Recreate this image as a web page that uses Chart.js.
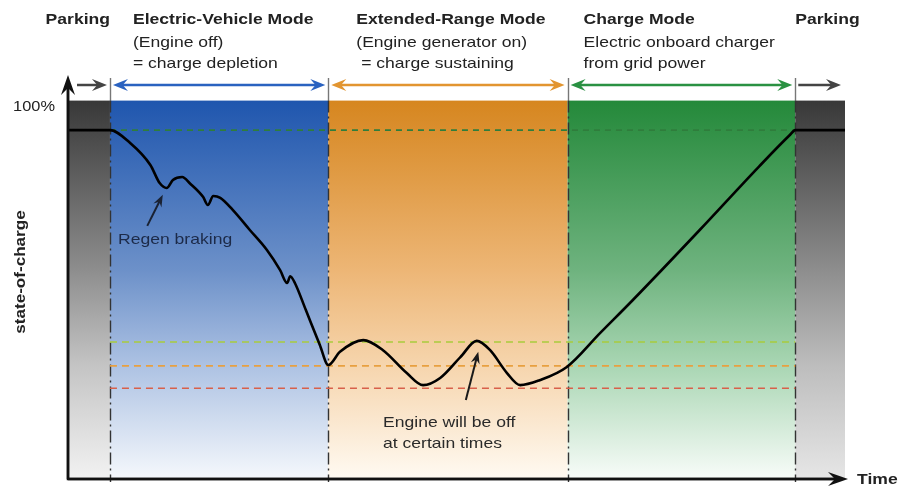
<!DOCTYPE html>
<html lang="en">
<head>
  <meta charset="UTF-8">
  <title>Range-extender EV state-of-charge</title>
  <script src="https://cdn.jsdelivr.net/npm/chart.js"></script>
  <style>
    body { margin: 0; background: #fff; }
    #wrap { width: 899px; height: 489px; }
  </style>
</head>
<body>
  <div id="wrap"><canvas id="socChart" width="899" height="489"></canvas></div>

  <script>
    // operating phases along the time axis (0..100)
    const phaseNames = ['Parking', 'Electric-Vehicle Mode', 'Extended-Range Mode', 'Charge Mode', 'Parking'];
    const phaseStart = [0, 5.4, 33.5, 64.3, 93.6];
    const phaseEnd = [5.4, 33.5, 64.3, 93.6, 100];
    const phaseNotes = [
      [],
      ['(Engine off)', '= charge depletion'],
      ['(Engine generator on)', ' = charge sustaining'],
      ['Electric onboard charger', 'from grid power'],
      []
    ];

    // state-of-charge curve (% of band height)
    const socTime = [0, 5.4, 8.0, 10.6, 11.8, 12.7, 13.5, 14.7, 15.7, 17.4, 18.0, 18.7, 19.6, 21.2, 23.4, 25.6,
      27.3, 28.2, 28.6, 29.2, 30.6, 32.4, 33.5, 35.0, 38.0, 40.5, 43.6, 45.7, 47.9, 50.5, 52.6, 54.3, 56.5,
      58.2, 60.7, 64.2, 68.5, 72.7, 81.3, 88.9, 92.9, 93.6, 100];
    const socValue = [92.2, 92.2, 88.8, 83.0, 78.2, 76.9, 79.0, 79.8, 78.1, 74.5, 72.4, 74.8, 74.3, 71.1, 65.8, 60.5,
      55.2, 51.8, 53.6, 51.8, 44.7, 35.5, 30.1, 33.6, 36.7, 34.1, 28.0, 24.8, 26.7, 32.2, 36.5, 34.1, 28.0,
      24.8, 26.1, 29.6, 38.6, 47.3, 65.8, 82.5, 90.9, 92.2, 92.2];

    // dashed reference levels
    const levelValues = [92.2, 36.2, 29.9, 24.0];
    const levelColors = ['#2f7d3c', '#a9cc3c', '#e8a040', '#d8604a'];

    const bandStops = [
      ['#383838', '#8e8e8e', '#c4c4c4', '#f2f2f2'],
      ['#1f56ae', '#6d91c9', '#adc2e3', '#f5f8fc'],
      ['#d6861f', '#edb676', '#f6d5ad', '#fffaf2'],
      ['#24893a', '#6fb37f', '#a9d6b3', '#f8fcf9'],
      ['#383838', '#8e8e8e', '#bdbdbd', '#e6e6e6']
    ];
    const arrowColors = ['#444444', '#2a62c0', '#e29530', '#2a9142', '#444444'];

    const levelSets = levelValues.map((v, i) => ({
      data: [{ x: phaseStart[1], y: v }, { x: phaseEnd[3], y: v }],
      borderColor: levelColors[i],
      borderWidth: 1.6,
      borderDash: i === 0 ? [6, 5] : [7, 5],
      pointRadius: 0
    }));

    const FONT = '"Liberation Sans", Arial, sans-serif';
    const STRETCH = 1.17;

    function text(ctx, str, x, y, font, align) {
      ctx.save();
      ctx.translate(x, y);
      ctx.scale(STRETCH, 1);
      ctx.font = font;
      ctx.textAlign = align || 'left';
      ctx.textBaseline = 'middle';
      ctx.fillText(str, 0, 0);
      ctx.restore();
    }

    function arrow(ctx, x1, y1, x2, y2, color, both, len, wid, lw) {
      const a = Math.atan2(y2 - y1, x2 - x1);
      ctx.save();
      ctx.strokeStyle = color;
      ctx.fillStyle = color;
      ctx.lineWidth = lw || 2;
      ctx.beginPath();
      ctx.moveTo(x1 + (both ? Math.cos(a) * len * 0.6 : 0), y1 + (both ? Math.sin(a) * len * 0.6 : 0));
      ctx.lineTo(x2 - Math.cos(a) * len * 0.6, y2 - Math.sin(a) * len * 0.6);
      ctx.stroke();
      const head = (tx, ty, ang) => {
        ctx.beginPath();
        ctx.moveTo(tx, ty);
        ctx.lineTo(tx - Math.cos(ang) * len + Math.sin(ang) * wid / 2, ty - Math.sin(ang) * len - Math.cos(ang) * wid / 2);
        ctx.lineTo(tx - Math.cos(ang) * len * 0.65, ty - Math.sin(ang) * len * 0.65);
        ctx.lineTo(tx - Math.cos(ang) * len - Math.sin(ang) * wid / 2, ty - Math.sin(ang) * len + Math.cos(ang) * wid / 2);
        ctx.closePath();
        ctx.fill();
      };
      head(x2, y2, a);
      if (both) head(x1, y1, a + Math.PI);
      ctx.restore();
    }

    const diagram = {
      id: 'diagram',
      beforeDatasetsDraw(chart) {
        const { ctx, chartArea, scales: { x, y } } = chart;
        const top = y.getPixelForValue(100);
        const bottom = chartArea.bottom;
        ctx.save();
        phaseStart.forEach((s, i) => {
          const x0 = x.getPixelForValue(s), x1 = x.getPixelForValue(phaseEnd[i]);
          const g = ctx.createLinearGradient(0, top, 0, bottom);
          g.addColorStop(0, bandStops[i][0]);
          g.addColorStop(0.45, bandStops[i][1]);
          g.addColorStop(0.7, bandStops[i][2]);
          g.addColorStop(1, bandStops[i][3]);
          ctx.fillStyle = g;
          ctx.fillRect(x0, top, x1 - x0, bottom - top);
        });
        // phase boundaries
        ctx.lineWidth = 1.4;
        phaseStart.slice(1).forEach(s => {
          const px = Math.round(x.getPixelForValue(s)) + 0.5;
          ctx.setLineDash([]);
          ctx.strokeStyle = '#777';
          ctx.beginPath(); ctx.moveTo(px, chartArea.top + 2); ctx.lineTo(px, top); ctx.stroke();
          ctx.strokeStyle = '#333';
          ctx.setLineDash([12, 4, 2, 4]);
          ctx.beginPath(); ctx.moveTo(px, top); ctx.lineTo(px, bottom + 3); ctx.stroke();
        });
        ctx.restore();
      },
      afterDatasetsDraw(chart) {
        const { ctx, chartArea, scales: { x, y } } = chart;
        const L = chartArea.left, B = chartArea.bottom;
        ctx.save();
        // axes
        ctx.strokeStyle = '#111';
        ctx.lineWidth = 2.5;
        ctx.beginPath();
        ctx.moveTo(L, chartArea.top + 12); ctx.lineTo(L, B); ctx.lineTo(chartArea.right - 8, B);
        ctx.stroke();
        arrow(ctx, L, B, L, chartArea.top - 1, '#111', false, 20, 14, 2.5);
        arrow(ctx, L, B, chartArea.right + 3, B, '#111', false, 20, 14, 2.5);

        // phase arrows
        const ay = 85;
        phaseStart.forEach((s, i) => {
          const x0 = x.getPixelForValue(s), x1 = x.getPixelForValue(phaseEnd[i]);
          if (i === 0) arrow(ctx, x0 + 9, ay, x1 - 3, ay, arrowColors[i], false, 15, 12, 2.5);
          else if (i === 4) arrow(ctx, x0 + 3, ay, x1 - 4, ay, arrowColors[i], false, 15, 12, 2.5);
          else arrow(ctx, x0 + 3, ay, x1 - 3, ay, arrowColors[i], true, 15, 12, 2.5);
        });

        // header text
        ctx.fillStyle = '#222';
        const offs = [null, 23, 28, 16, 0];
        phaseNames.forEach((name, i) => {
          const x0 = x.getPixelForValue(phaseStart[i]);
          if (i === 0) {
            text(ctx, name, x.getPixelForValue(phaseEnd[0]), 20, 'bold 15px ' + FONT, 'right');
            return;
          }
          text(ctx, name, x0 + offs[i], 20, 'bold 15px ' + FONT);
          phaseNotes[i].forEach((t, k) => text(ctx, t, x0 + offs[i], 43 + k * 21, '15px ' + FONT));
        });

        // axis labels
        text(ctx, '100%', 55, 107, '14px ' + FONT, 'right');
        text(ctx, 'Time', 857, B + 1, 'bold 15px ' + FONT);
        ctx.save();
        ctx.translate(21, 272);
        ctx.rotate(-Math.PI / 2);
        ctx.scale(1.22, 1);
        ctx.textAlign = 'center';
        ctx.textBaseline = 'middle';
        ctx.font = 'bold 14px ' + FONT;
        ctx.fillText('state-of-charge', 0, 0);
        ctx.restore();

        // annotations
        arrow(ctx, x.getPixelForValue(10.2), y.getPixelForValue(66.9), x.getPixelForValue(12.2), y.getPixelForValue(75.1), '#1a2233', false, 12, 9, 2);
        ctx.fillStyle = '#1c2a48';
        text(ctx, 'Regen braking', 118, 240, '15px ' + FONT);
        arrow(ctx, x.getPixelForValue(51.2), y.getPixelForValue(20.9), x.getPixelForValue(52.8), y.getPixelForValue(33.6), '#1a1a1a', false, 12, 9, 2);
        ctx.fillStyle = '#2a2a2a';
        text(ctx, 'Engine will be off', 383, 423, '15px ' + FONT);
        text(ctx, 'at certain times', 383, 444, '15px ' + FONT);
        ctx.restore();
      }
    };

    new Chart(document.getElementById('socChart').getContext('2d'), {
      type: 'line',
      data: {
        datasets: [
          {
            label: 'State of charge',
            data: socTime.map((t, i) => ({ x: t, y: socValue[i] })),
            borderColor: '#000',
            borderWidth: 2.6,
            pointRadius: 0,
            cubicInterpolationMode: 'monotone'
          },
          ...levelSets
        ]
      },
      options: {
        responsive: false,
        animation: false,
        layout: { padding: { left: 68, right: 54, top: 76, bottom: 10 } },
        plugins: { legend: { display: false }, tooltip: { enabled: false } },
        scales: {
          x: { type: 'linear', min: 0, max: 100, display: false },
          y: { min: 0, max: 106.5, display: false }
        }
      },
      plugins: [diagram]
    });
  </script>
</body>
</html>
